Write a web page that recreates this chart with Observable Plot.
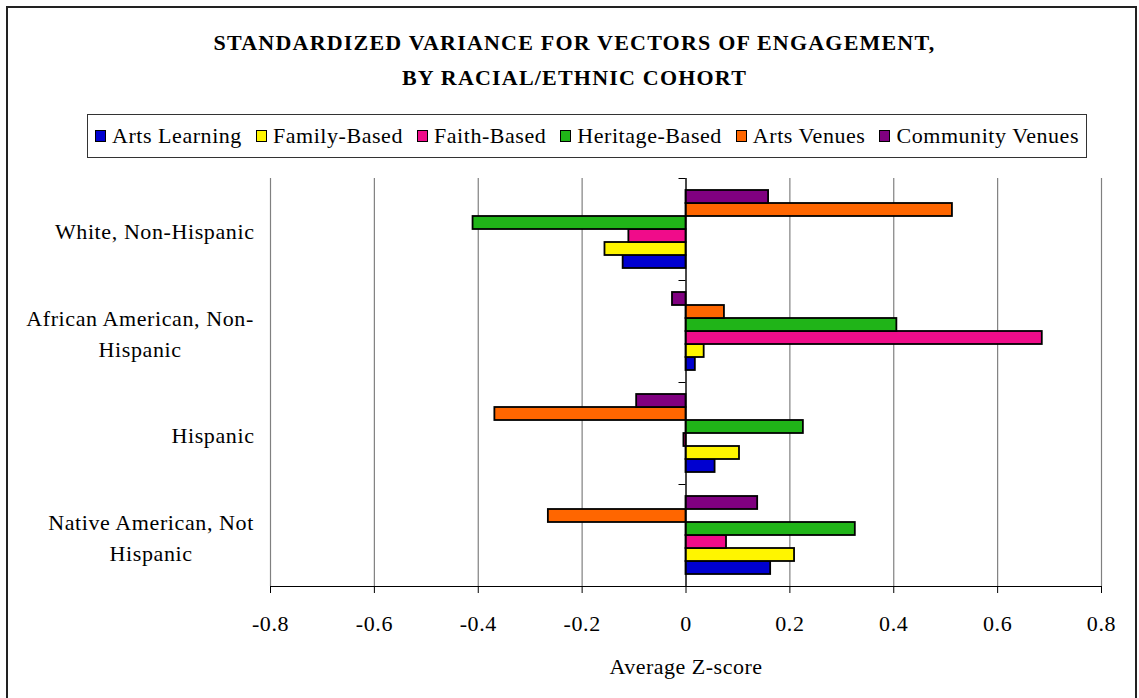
<!DOCTYPE html>
<html>
<head>
<meta charset="utf-8">
<script src="https://cdn.jsdelivr.net/npm/d3@7"></script>
<script src="https://cdn.jsdelivr.net/npm/@observablehq/plot@0.6"></script>
<style>
  html, body { margin: 0; padding: 0; background: #fff; }
  #page { position: relative; width: 1139px; height: 698px; overflow: hidden; font-family: "Liberation Serif", serif; color: #000; background: #fff; }
  #frame { position: absolute; left: 6px; top: 6px; width: 1131px; height: 720px; border: 2px solid #222; box-sizing: border-box; pointer-events: none; }
  #title { position: absolute; left: 10px; top: 25px; width: 1129px; text-align: center; font-weight: bold; font-size: 22px; line-height: 35px; letter-spacing: 1.2px; }
  #legend { position: absolute; left: 87px; top: 114px; width: 1000px; height: 44px; border: 1.5px solid #333; box-sizing: border-box; display: flex; align-items: center; justify-content: center; font-size: 22px; letter-spacing: 0.55px; white-space: nowrap; }
  .item { display: inline-flex; align-items: center; margin: 0 7px; }
  .sw { display: inline-block; width: 11px; height: 12px; border: 1.5px solid #000; margin-right: 6px; box-sizing: border-box; }
  #chart { position: absolute; left: 0; top: 160px; }
  #chart svg { background: transparent !important; }
  #chart svg text { letter-spacing: 0.6px; }
  #xlabel { position: absolute; left: 486px; top: 654px; width: 400px; text-align: center; font-size: 22px; line-height: 26px; letter-spacing: 0.5px; }
</style>
</head>
<body>
<div id="page">
  <div id="title"></div>
  <div id="legend"></div>
  <div id="chart"></div>
  <div id="xlabel"></div>
  <div id="frame"></div>
</div>
<script>
// ---- Data ----
const titleLines = ["STANDARDIZED VARIANCE FOR VECTORS OF ENGAGEMENT,", "BY RACIAL/ETHNIC COHORT"];
const xAxisTitle = "Average Z-score";
const cohorts = ["White, Non-Hispanic", "African American, Non-Hispanic", "Hispanic", "Native American, Not Hispanic"];
const cohortLabels = ["White, Non-Hispanic", "African American, Non-\nHispanic", "Hispanic", "Native American, Not\nHispanic"];
const series = ["Arts Learning", "Family-Based", "Faith-Based", "Heritage-Based", "Arts Venues", "Community Venues"];
const seriesColors = ["#0000D0", "#FFF500", "#F00C8A", "#20B418", "#FF6600", "#800080"];
const artsLearning    = [-0.121, 0.018,  0.056, 0.163];
const familyBased     = [-0.156, 0.035,  0.103, 0.209];
const faithBased      = [-0.110, 0.686, -0.004, 0.078];
const heritageBased   = [-0.410, 0.406,  0.226, 0.326];
const artsVenues      = [ 0.513, 0.074, -0.368, -0.265];
const communityVenues = [ 0.159, -0.026, -0.095, 0.138];
const xTicks = [-0.8, -0.6, -0.4, -0.2, 0, 0.2, 0.4, 0.6, 0.8];
const xTickLabels = ["-0.8", "-0.6", "-0.4", "-0.2", "0", "0.2", "0.4", "0.6", "0.8"];

// ---- Build table ----
const seriesValues = [artsLearning, familyBased, faithBased, heritageBased, artsVenues, communityVenues];
const rows = [];
cohorts.forEach((c, i) => series.forEach((s, j) => rows.push({cohort: c, series: s, value: seriesValues[j][i]})));

// ---- Title & legend & axis title ----
document.getElementById("title").innerHTML = titleLines.map(t => `<div>${t}</div>`).join("");
document.getElementById("legend").innerHTML = series.map((s, j) =>
  `<span class="item"><span class="sw" style="background:${seriesColors[j]}"></span>${s}</span>`).join("");
document.getElementById("xlabel").textContent = xAxisTitle;

// ---- Label measurement for centred multi-line category labels ----
const FS = 22, LS = 0.6;
const ctx = document.createElement("canvas").getContext("2d");
ctx.font = `${FS}px "Liberation Serif"`;
const labelWidth = t => Math.max(...t.split("\n").map(l => ctx.measureText(l).width + LS * l.length));

const W = 1139, H = 500;
const labelMarks = cohorts.map((c, i) => Plot.text([i], {
  fy: d => cohorts[d],
  text: d => cohortLabels[d],
  frameAnchor: "left",
  textAnchor: "middle",
  dx: -(16 + labelWidth(cohortLabels[i]) / 2),
  lineHeight: 1.4,
  fontSize: FS,
  fill: "black"
}));

// small ticks on the value axis at category boundaries
const boundaryTicks = (index, scales, values, dims) => {
  const g = d3.create("svg:g");
  const x0 = scales.x(0);
  g.append("line").attr("x1", x0 - 7).attr("x2", x0).attr("y1", dims.marginTop + 0.5).attr("y2", dims.marginTop + 0.5)
    .attr("stroke", "black").attr("stroke-width", 1);
  return g.node();
};

const chart = Plot.plot({
  width: W,
  height: H,
  marginLeft: 270,
  marginRight: 38,
  marginTop: 18,
  marginBottom: 74,
  style: {fontFamily: "Liberation Serif", fontSize: FS + "px", background: "transparent", color: "black", overflow: "visible"},
  x: {
    domain: [-0.8, 0.8],
    ticks: xTicks,
    tickFormat: d => xTickLabels[xTicks.findIndex(t => Math.abs(t - d) < 1e-9)],
    tickSize: 7,
    tickPadding: 22,
    line: true,
    label: null
  },
  y: {domain: series.slice().reverse(), axis: null, paddingInner: 0, paddingOuter: 0.85},
  fy: {domain: cohorts, axis: null, padding: 0},
  color: {domain: series, range: seriesColors},
  marks: [
    Plot.ruleX(xTicks, {stroke: "#808080", strokeWidth: 1.2}),
    Plot.barX(rows, {x: "value", y: "series", fy: "cohort", fill: "series", stroke: "black", strokeWidth: 1.8, inset: 0}),
    Plot.ruleX([0], {stroke: "black", strokeWidth: 1.2}),
    boundaryTicks,
    ...labelMarks
  ]
});
document.getElementById("chart").appendChild(chart);
</script>
</body>
</html>
